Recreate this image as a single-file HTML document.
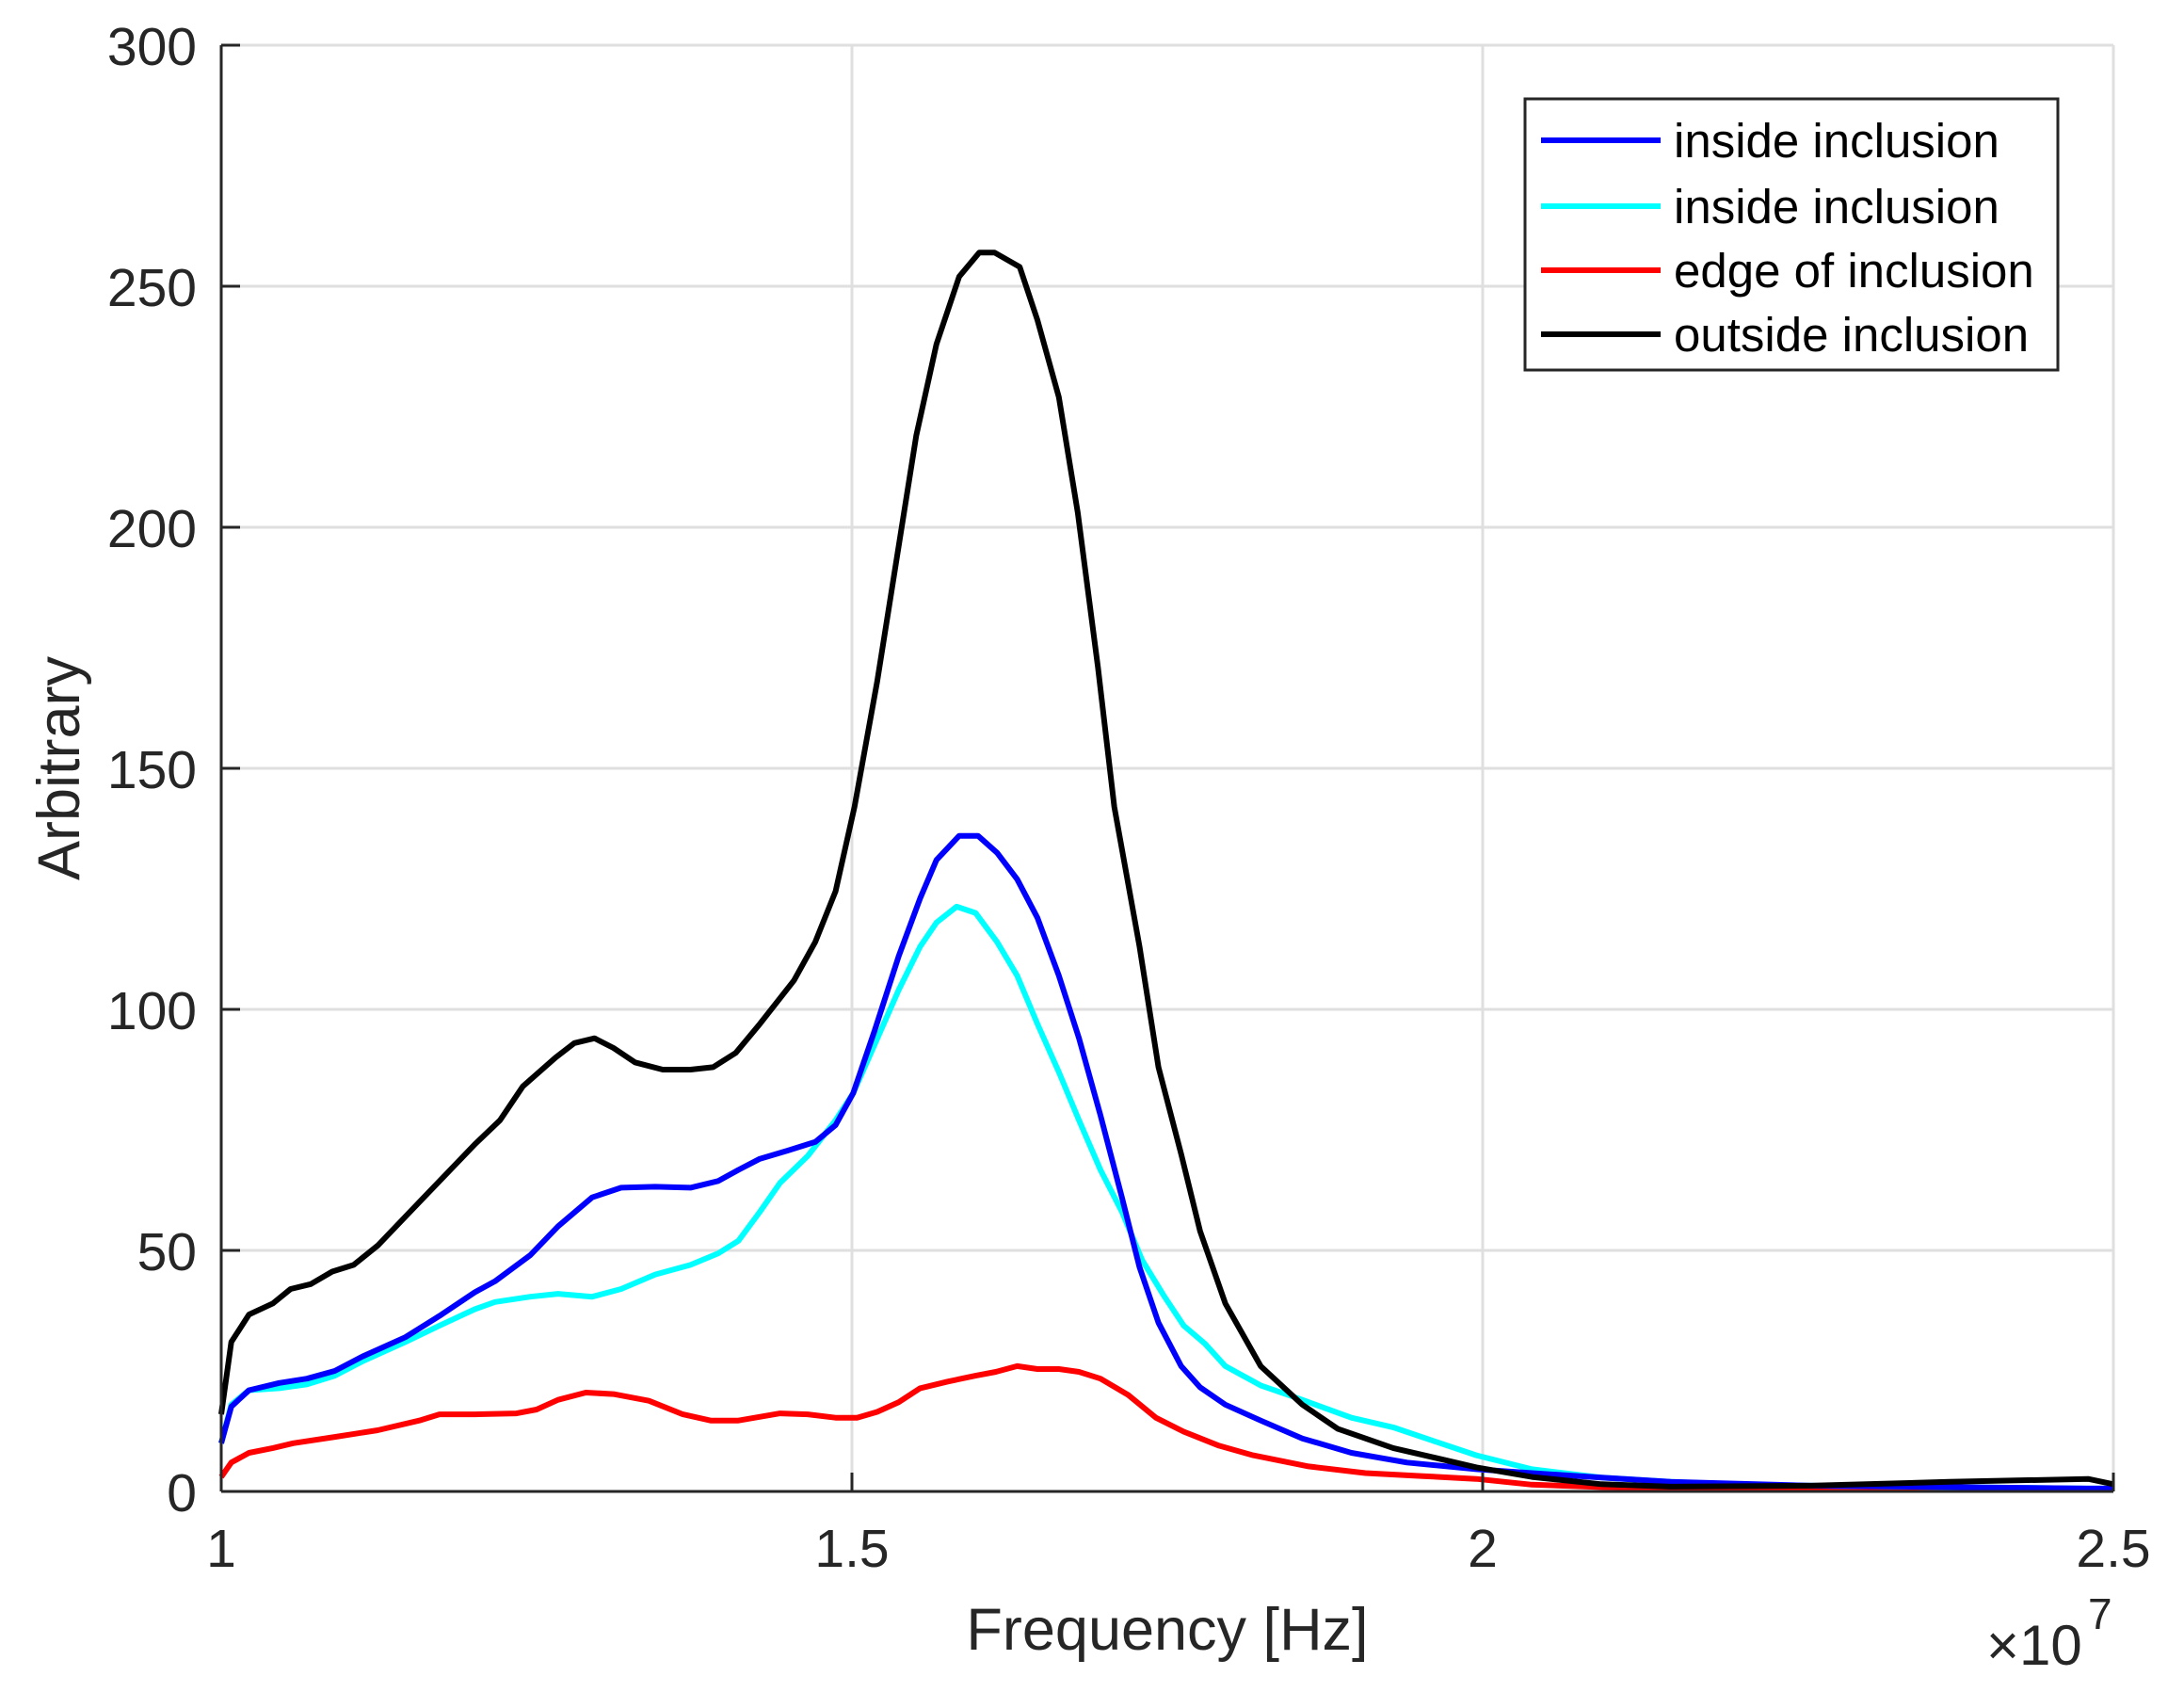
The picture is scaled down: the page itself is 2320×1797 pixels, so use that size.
<!DOCTYPE html>
<html><head><meta charset="utf-8"><style>
html,body{margin:0;padding:0;background:#fff;}
svg{display:block;font-family:"Liberation Sans",Arial,sans-serif;}
</style></head><body>
<svg id="chart" width="2320" height="1797" viewBox="0 0 2320 1797" xmlns="http://www.w3.org/2000/svg">
<g id="grid"></g>
<g id="series"></g>
<g id="axes"></g>
<text x="1240" y="1752" font-size="63" fill="#262626" text-anchor="middle">Frequency [Hz]</text>
<text transform="translate(84,816) rotate(-90)" font-size="63" fill="#262626" text-anchor="middle">Arbitrary</text>
<g fill="#262626">
<text x="2110" y="1768" font-size="60">×10</text><text x="2218" y="1730" font-size="46">7</text>
</g>
<g id="legend"></g>
</svg>
<script>
const xTicks=[1,1.5,2,2.5];
const xTickLabels=["1","1.5","2","2.5"];
const yTicks=[0,50,100,150,200,250,300];
const yTickLabels=["0","50","100","150","200","250","300"];
const seriesNames=["inside inclusion","inside inclusion","edge of inclusion","outside inclusion"];
const seriesColors=["#0000ff","#00ffff","#ff0000","#000000"];
const blackX=[1.000,1.008,1.022,1.041,1.055,1.071,1.088,1.105,1.124,1.146,1.168,1.201,1.221,1.239,1.265,1.280,1.296,1.311,1.328,1.350,1.372,1.390,1.408,1.427,1.454,1.471,1.487,1.502,1.520,1.551,1.567,1.585,1.601,1.613,1.633,1.647,1.664,1.679,1.695,1.708,1.728,1.743,1.761,1.776,1.796,1.824,1.857,1.885,1.929,1.995,2.039,2.094,2.149,2.260,2.370,2.480,2.5];
const blackY=[16,31,36.7,39,42,43,45.6,47,51,57,63,72,77,84,90,93,94,92,89,87.5,87.5,88,91,97,106,114,124.5,142,168,219,238,252,257,257,254,243,227,203,171,142,113,88,70,54,39,26,18,13,9,5,3,1.5,1,1.2,2,2.6,1.5];
const blueX=[1.000,1.008,1.022,1.046,1.068,1.090,1.112,1.146,1.173,1.201,1.217,1.245,1.267,1.294,1.317,1.344,1.372,1.394,1.410,1.427,1.449,1.471,1.487,1.501,1.518,1.537,1.554,1.567,1.585,1.600,1.615,1.631,1.647,1.664,1.680,1.697,1.714,1.728,1.743,1.761,1.776,1.796,1.824,1.857,1.896,1.940,1.995,2.039,2.094,2.149,2.260,2.370,2.480,2.5];
const blueY=[10,17.6,21,22.5,23.4,25,28,32,36.4,41.3,43.6,49,55,61,63,63.2,63,64.4,66.7,69,70.7,72.5,76,82.6,95.6,111,123,131,136,136,132.5,127,119,107,94,78,61,46.5,35,26,21.6,18,14.7,11,8,6,4.6,3.8,2.9,2,1.2,0.9,0.6,0.6];
const cyanX=[1.000,1.008,1.022,1.046,1.068,1.090,1.112,1.146,1.173,1.201,1.217,1.245,1.267,1.294,1.317,1.344,1.372,1.394,1.410,1.427,1.443,1.465,1.487,1.501,1.518,1.537,1.554,1.567,1.583,1.598,1.615,1.631,1.647,1.664,1.680,1.697,1.714,1.730,1.747,1.763,1.780,1.796,1.824,1.857,1.896,1.929,1.962,1.995,2.039,2.094,2.149,2.204,2.260,2.370,2.480,2.5];
const cyanY=[10,18,21,21.4,22.2,24,27,31,34.4,37.8,39.3,40.4,41,40.4,42,45,47,49.4,52,58,64,69.6,77,82.6,92.7,104,113,118,121.3,120,114,107,97,87,77,66.7,58,48,40.7,34.4,30.6,26,22,19,15.3,13.3,10.4,7.5,4.6,2.9,2,1.4,1.2,0.9,0.6,0.6];
const redX=[1.000,1.008,1.022,1.041,1.057,1.090,1.124,1.157,1.173,1.201,1.234,1.250,1.267,1.289,1.311,1.339,1.366,1.388,1.410,1.443,1.465,1.487,1.504,1.520,1.537,1.554,1.576,1.598,1.614,1.631,1.647,1.664,1.680,1.697,1.719,1.741,1.763,1.791,1.818,1.862,1.907,1.951,1.995,2.039,2.094,2.260,2.480,2.5];
const redY=[3,6,8,9,10,11.3,12.7,14.7,16,16,16.2,17,19,20.5,20.2,18.8,16,14.7,14.7,16.2,16,15.3,15.3,16.5,18.5,21.4,22.8,24,24.8,26,25.4,25.4,24.8,23.4,20,15.3,12.4,9.5,7.5,5.2,3.8,3.2,2.6,1.4,0.9,0.6,0.3,0.3];

const L=235,R=2245,T=48,B=1584;
const sx=v=>L+(v-1)/(2.5-1)*(R-L);
const sy=v=>B-v/300*(B-T);
const NS="http://www.w3.org/2000/svg";
function mk(tag,attrs,parent){const e=document.createElementNS(NS,tag);for(const k in attrs)e.setAttribute(k,attrs[k]);parent.appendChild(e);return e;}
const grid=document.getElementById('grid'),axes=document.getElementById('axes'),ser=document.getElementById('series'),leg=document.getElementById('legend');
xTicks.forEach((t,i)=>{
  const g=mk('line',{x1:sx(t),x2:sx(t),y1:T,y2:B,stroke:'#dfdfdf','stroke-width':3},grid);
  
  
  const tk=mk('line',{x1:sx(t),x2:sx(t),y1:B,y2:B-20,stroke:'#262626','stroke-width':3},axes);
  
  
  const lb=mk('text',{x:sx(t),y:B+80,'font-size':57,fill:'#262626','text-anchor':'middle'},axes);
  lb.textContent=xTickLabels[i];
  
  
});
yTicks.forEach((t,i)=>{
  const g=mk('line',{x1:L,x2:R,y1:sy(t),y2:sy(t),stroke:'#dfdfdf','stroke-width':3},grid);
  
  
  const tk=mk('line',{x1:L,x2:L+20,y1:sy(t),y2:sy(t),stroke:'#262626','stroke-width':3},axes);
  
  
  const lb=mk('text',{x:L-26,y:sy(t)+21,'font-size':57,fill:'#262626','text-anchor':'end'},axes);
  lb.textContent=yTickLabels[i];
  
  
});
const xa=mk('line',{x1:L,x2:R,y1:B,y2:B,stroke:'#262626','stroke-width':3},axes);


const ya=mk('line',{x1:L,x2:L,y1:T,y2:B,stroke:'#262626','stroke-width':3},axes);


const data=[[blueX,blueY],[cyanX,cyanY],[redX,redY],[blackX,blackY]];
const order=[2,1,0,3];
order.forEach(i=>{
  const [xs,ys]=data[i];
  const d=xs.map((x,j)=>(j?'L':'M')+sx(x).toFixed(1)+','+sy(ys[j]).toFixed(1)).join(' ');
  const p=mk('path',{d:d,fill:'none',stroke:seriesColors[i],'stroke-width':6,'stroke-linejoin':'round'},ser);
  
  
});
const box=mk('rect',{x:1620,y:105,width:566,height:288,fill:'#fff',stroke:'#262626','stroke-width':3},leg);


const ly=[149,219,287,355];
seriesNames.forEach((n,i)=>{
  const ln=mk('line',{x1:1637,x2:1764,y1:ly[i],y2:ly[i],stroke:seriesColors[i],'stroke-width':6},leg);
  
  
  const tx=mk('text',{x:1778,y:ly[i]+18,'font-size':51,fill:'#000'},leg);
  tx.textContent=n;
  
  
});
</script>
</body></html>
